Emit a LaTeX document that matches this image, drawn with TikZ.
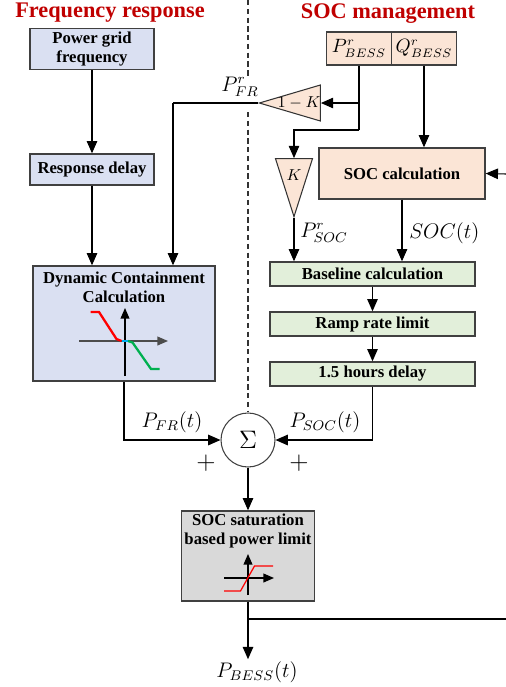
\documentclass[tikz,border=0pt]{standalone}
\usepackage{amsmath}
\usepackage{fontspec}
\setmainfont{Liberation Serif}
\usepackage{xcolor}
\usetikzlibrary{shapes.geometric, arrows.meta}

\definecolor{frblue}{RGB}{218,224,242}
\definecolor{socpeach}{RGB}{251,229,214}
\definecolor{slgreen}{RGB}{226,239,218}
\definecolor{limgray}{RGB}{217,217,217}
\definecolor{titlered}{RGB}{192,0,0}
\definecolor{curvegreen}{RGB}{0,176,80}
\definecolor{curveblue}{RGB}{0,176,240}

\begin{document}
\begin{tikzpicture}[x=0.02cm, y=-0.02cm, line width=0.6pt,
        every node/.style={inner sep=1pt},
        blk/.style={rectangle, draw=black!75, line width=0.8pt, align=center,
            inner sep=2pt, font=\fontsize{9.5}{10.8}\selectfont\bfseries},
        tri/.style={isosceles triangle, isosceles triangle stretches,
            draw=black!80, line width=0.6pt, fill=socpeach, inner sep=0pt},
        lbl/.style={font=\fontsize{11.5}{13}\selectfont},
        gain/.style={font=\fontsize{9}{10}\selectfont},
        title/.style={font=\fontsize{12.7}{15}\selectfont\bfseries, text=titlered},
        arr/.style={-{Triangle[length=7pt, width=6pt]}},
        axis/.style={line width=0.7pt, -{Triangle[length=6pt, width=5pt]}}]
        \useasboundingbox (0,0) rectangle (506,687);

        \node[title] (T1) at (110,13) {Frequency response};
        \node[title] (T2) at (388,14) {SOC management};

        \node[blk, fill=frblue, minimum width=2.48cm, minimum height=0.8cm] (PG) at (92,49) {Power grid\\frequency};
        \node[blk, fill=frblue, minimum width=2.48cm, minimum height=0.62cm] (RD) at (92,169.5) {Response delay};
        \node[blk, fill=frblue, minimum width=3.64cm, minimum height=2.3cm] (DC) at (124,323.5) {};
        \node[blk, draw=none] (DCT) at (124,287) {Dynamic Containment\\Calculation};

        \node[blk, fill=socpeach, minimum width=1.3cm, minimum height=0.66cm, inner sep=0pt, font=\fontsize{10.5}{12}\selectfont] (P) at (359,48.5) {\(P^r_{BESS}\)};
        \node[blk, fill=socpeach, minimum width=1.3cm, minimum height=0.66cm, inner sep=0pt, font=\fontsize{10.5}{12}\selectfont] (Q) at (424,48.5) {\(Q^r_{BESS}\)};
        \node[tri, shape border rotate=180, minimum height=1.22cm, minimum width=0.72cm, anchor=apex] (G1) at (258,103) {};
        \node[gain] (G1T) at (299,103) {\(1-K\)};
        \node[tri, shape border rotate=270, minimum width=0.74cm, minimum height=1.16cm, anchor=apex] (G2) at (294,218) {};
        \node[gain] (G2T) at (294,175) {\(K\)};
        \node[blk, fill=socpeach, minimum width=3.32cm, minimum height=1.02cm] (SC) at (402,173.5) {SOC calculation};

        \node[blk, fill=slgreen, minimum width=4.1cm, minimum height=0.48cm] (BL) at (372.5,274) {Baseline calculation};
        \node[blk, fill=slgreen, minimum width=4.1cm, minimum height=0.48cm] (RR) at (372.5,324) {Ramp rate limit};
        \node[blk, fill=slgreen, minimum width=4.1cm, minimum height=0.48cm] (HD) at (372.5,374) {1.5 hours delay};

        \node[circle, draw=black!75, minimum size=1.08cm, inner sep=0pt, font=\fontsize{15}{16}\selectfont] (S) at (248,440) {\(\Sigma\)};
        \node[blk, fill=limgray, minimum width=2.66cm, minimum height=1.8cm] (SL) at (248,556) {};
        \node[blk, draw=none] (SLT) at (248,531) {SOC saturation\\based power limit};

        \node[lbl] (PFRr) at (240,87) {\(P^r_{FR}\)};
        \node[lbl, anchor=west] (PSOCr) at (298,233) {\(P^r_{SOC}\)};
        \node[lbl, anchor=west] (SOCt) at (407,233) {\(SOC(t)\)};
        \node[lbl] (PFR) at (172,422) {\(P_{FR}(t)\)};
        \node[lbl] (PSOC) at (325,422) {\(P_{SOC}(t)\)};
        \node[lbl, font=\fontsize{15}{16}\selectfont] (PL1) at (206,463) {\(+\)};
        \node[lbl, font=\fontsize{15}{16}\selectfont] (PL2) at (299,463) {\(+\)};
        \node[lbl] (PB) at (257,672) {\(P_{BESS}(t)\)};

        \coordinate (D0) at (248,0);
        \coordinate (D1) at (248,76);
        \coordinate (D2) at (248,112);
        \coordinate (J0) at (173,103);
        \coordinate (J1) at (359,103);
        \coordinate (J2) at (359,130);
        \coordinate (J3) at (248,619);
        \coordinate (E0) at (506,174);
        \coordinate (E1) at (506,619);

        \draw[dash pattern=on 3pt off 2pt, black!80] (D0) -- (D1);
        \draw[dash pattern=on 3pt off 2pt, black!80] (D2) -- (S.north);

        \draw[arr] (PG) -- (RD);
        \draw[arr] (RD) -- (RD.south |- DC.north);
        \draw (G1.apex) -- (J0);
        \draw[arr] (J0) -- (J0 |- DC.north);
        \draw (P.south) -- (J2);
        \draw[arr] (J1) -- (G1.east);
        \draw[arr] (J2) -| (G2.north);
        \draw[arr] (Q) -- (Q.south |- SC.north);
        \draw[arr] (E0) -- (SC.east);
        \draw[arr] (SC) -- (SC.south |- BL.north);
        \draw[arr] (G2.apex) -- (G2.apex |- BL.north);
        \draw[arr] (BL) -- (RR);
        \draw[arr] (RR) -- (HD);
        \draw[arr] (HD.south) |- (S.east);
        \draw[arr] (DC.south) |- (S.west);
        \draw[arr] (S) -- (SL);
        \draw[arr] (SL) -- (SL.south |- PB.north);
        \draw (J3) -- (E1);

        \draw[axis, black!70] (79,341) -- (168,341);
        \draw[axis] (125,376) -- (125,308);
        \draw[red, line width=1.3pt] (90.5,312) -- (99,312) -- (116.5,339) -- (121.5,341);
        \draw[curveblue, line width=1.3pt] (121.5,341) -- (128,341);
        \draw[curvegreen, line width=1.3pt] (128,341) -- (132.5,342.5) -- (151,369) -- (159.5,369);

        \draw[axis] (224,578) -- (274,578);
        \draw[axis] (248,595) -- (248,554);
        \draw[red, line width=0.7pt] (224,591) -- (240.5,591) -- (254.5,566) -- (273,566);
    \end{tikzpicture}
\end{document}
